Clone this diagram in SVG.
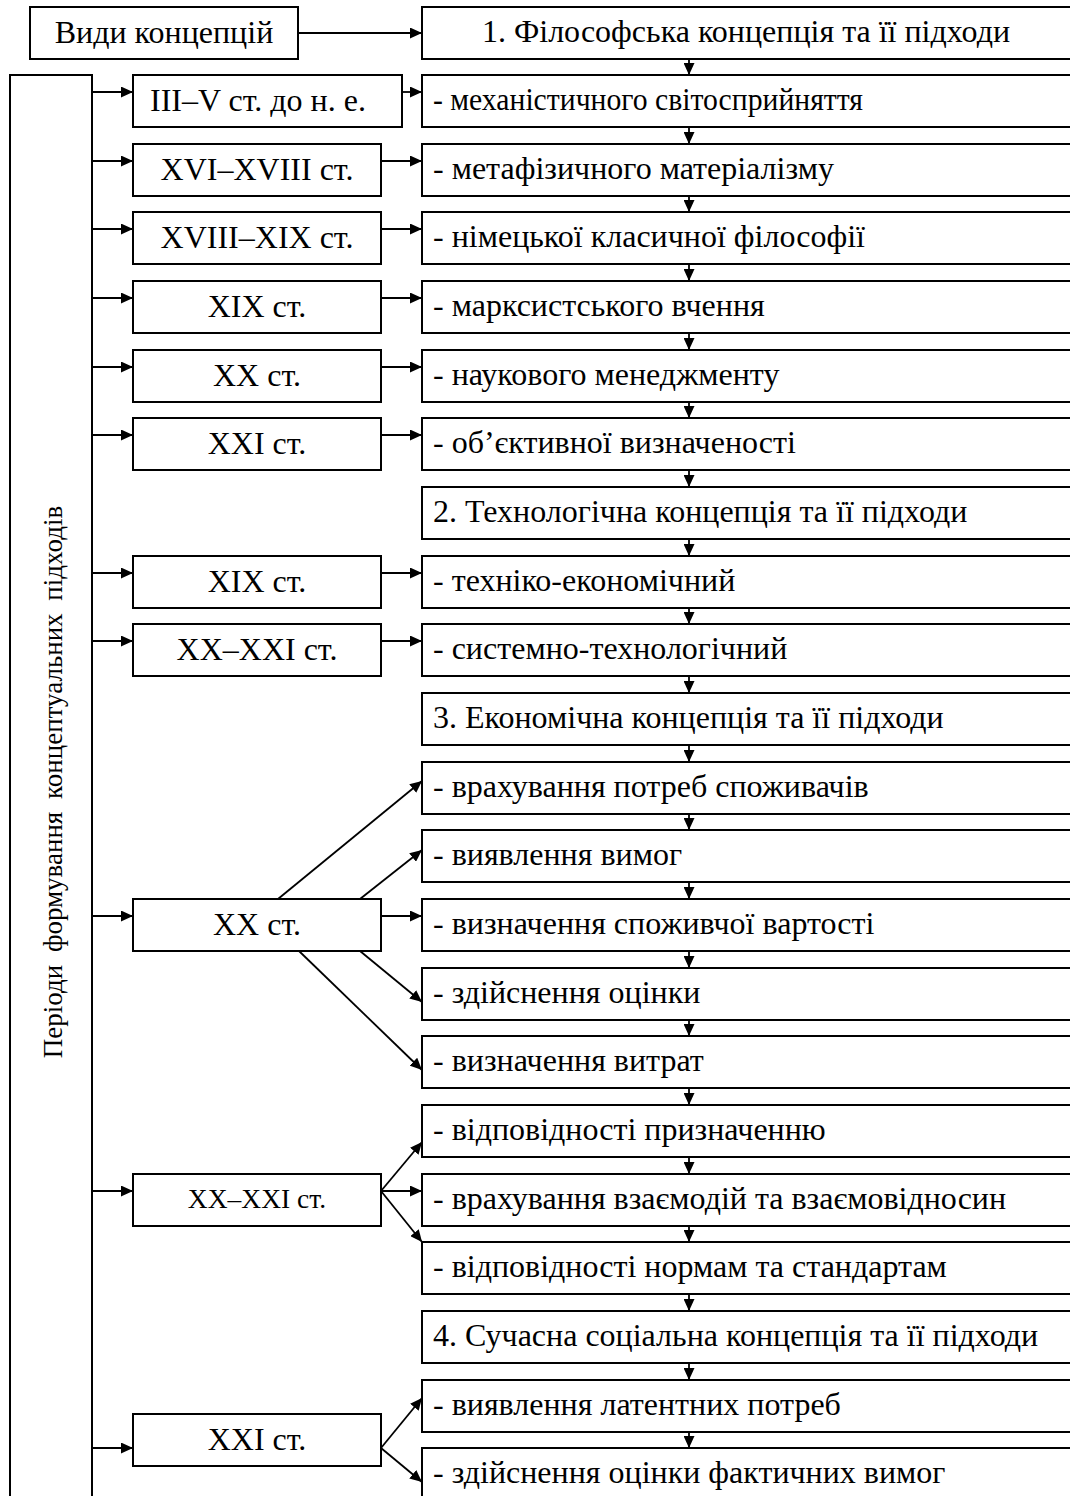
<svg xmlns="http://www.w3.org/2000/svg" width="1070" height="1496" viewBox="0 0 1070 1496">
<style>
.b{fill:#fff;stroke:#000;stroke-width:2}
.t{font-family:"Liberation Serif","Times New Roman",serif;font-size:32px;fill:#000}
.c{text-anchor:middle}
.s{font-size:27.5px}
.ln{stroke:#000;stroke-width:1.8;fill:none;marker-end:url(#ah)}
</style>
<defs>
<marker id="ah" markerUnits="userSpaceOnUse" markerWidth="13" markerHeight="11" refX="12" refY="5.5" orient="auto">
<path d="M0,0 L12,5.5 L0,11 z" fill="#000"/>
</marker>
</defs>
<rect width="1070" height="1496" fill="#fff"/>

<g id="node-vidy"><rect class="b" x="30" y="7" width="268" height="52"/><text class="t c" x="164" y="43">Види концепцій</text></g>
<g id="node-periods"><rect class="b" x="10" y="75" width="82" height="1440"/><text class="t" x="62" y="782" text-anchor="middle" style="font-size:27px;word-spacing:6px" transform="rotate(-90 62 782)">Періоди формування концептуальних підходів</text></g>

<g id="node-r1"><rect class="b" x="422" y="7" width="660" height="52"/><text class="t c" x="746" y="42">1. Філософська концепція та її підходи</text></g>
<g id="node-r2"><rect class="b" x="422" y="75" width="660" height="52"/><text class="t" x="433" y="110" textLength="430" lengthAdjust="spacingAndGlyphs">- механістичного світосприйняття</text></g>
<g id="node-r3"><rect class="b" x="422" y="144" width="660" height="52"/><text class="t" x="433" y="179">- метафізичного матеріалізму</text></g>
<g id="node-r4"><rect class="b" x="422" y="212" width="660" height="52"/><text class="t" x="433" y="247">- німецької класичної філософії</text></g>
<g id="node-r5"><rect class="b" x="422" y="281" width="660" height="52"/><text class="t" x="433" y="316">- марксистського вчення</text></g>
<g id="node-r6"><rect class="b" x="422" y="350" width="660" height="52"/><text class="t" x="433" y="385">- наукового менеджменту</text></g>
<g id="node-r7"><rect class="b" x="422" y="418" width="660" height="52"/><text class="t" x="433" y="453">- об’єктивної визначеності</text></g>
<g id="node-r8"><rect class="b" x="422" y="487" width="660" height="52"/><text class="t" x="433" y="522">2. Технологічна концепція та її підходи</text></g>
<g id="node-r9"><rect class="b" x="422" y="556" width="660" height="52"/><text class="t" x="433" y="591">- техніко-економічний</text></g>
<g id="node-r10"><rect class="b" x="422" y="624" width="660" height="52"/><text class="t" x="433" y="659">- системно-технологічний</text></g>
<g id="node-r11"><rect class="b" x="422" y="693" width="660" height="52"/><text class="t" x="433" y="728">3. Економічна концепція та її підходи</text></g>
<g id="node-r12"><rect class="b" x="422" y="762" width="660" height="52"/><text class="t" x="433" y="797">- врахування потреб споживачів</text></g>
<g id="node-r13"><rect class="b" x="422" y="830" width="660" height="52"/><text class="t" x="433" y="865">- виявлення вимог</text></g>
<g id="node-r14"><rect class="b" x="422" y="899" width="660" height="52"/><text class="t" x="433" y="934">- визначення споживчої вартості</text></g>
<g id="node-r15"><rect class="b" x="422" y="968" width="660" height="52"/><text class="t" x="433" y="1003">- здійснення оцінки</text></g>
<g id="node-r16"><rect class="b" x="422" y="1036" width="660" height="52"/><text class="t" x="433" y="1071">- визначення витрат</text></g>
<g id="node-r17"><rect class="b" x="422" y="1105" width="660" height="52"/><text class="t" x="433" y="1140">- відповідності призначенню</text></g>
<g id="node-r18"><rect class="b" x="422" y="1174" width="660" height="52"/><text class="t" x="433" y="1209">- врахування взаємодій та взаємовідносин</text></g>
<g id="node-r19"><rect class="b" x="422" y="1242" width="660" height="52"/><text class="t" x="433" y="1277">- відповідності нормам та стандартам</text></g>
<g id="node-r20"><rect class="b" x="422" y="1311" width="660" height="52"/><text class="t" x="433" y="1346">4. Сучасна соціальна концепція та її підходи</text></g>
<g id="node-r21"><rect class="b" x="422" y="1380" width="660" height="52"/><text class="t" x="433" y="1415">- виявлення латентних потреб</text></g>
<g id="node-r22"><rect class="b" x="422" y="1448" width="660" height="52"/><text class="t" x="433" y="1483">- здійснення оцінки фактичних вимог</text></g>

<g id="node-p1"><rect class="b" x="133" y="75" width="269" height="52"/><text class="t c" x="258" y="111">III–V ст. до н. е.</text></g>
<g id="node-p2"><rect class="b" x="133" y="144" width="248" height="52"/><text class="t c" x="257" y="180">XVI–XVIII ст.</text></g>
<g id="node-p3"><rect class="b" x="133" y="212" width="248" height="52"/><text class="t c" x="257" y="248">XVIII–XIX ст.</text></g>
<g id="node-p4"><rect class="b" x="133" y="281" width="248" height="52"/><text class="t c" x="257" y="317">XIX ст.</text></g>
<g id="node-p5"><rect class="b" x="133" y="350" width="248" height="52"/><text class="t c" x="257" y="386">XX ст.</text></g>
<g id="node-p6"><rect class="b" x="133" y="418" width="248" height="52"/><text class="t c" x="257" y="454">XXI ст.</text></g>
<g id="node-p7"><rect class="b" x="133" y="556" width="248" height="52"/><text class="t c" x="257" y="592">XIX ст.</text></g>
<g id="node-p8"><rect class="b" x="133" y="624" width="248" height="52"/><text class="t c" x="257" y="660">XX–XXI ст.</text></g>
<g id="node-p9"><rect class="b" x="133" y="899" width="248" height="52"/><text class="t c" x="257" y="935">XX ст.</text></g>
<g id="node-p10"><rect class="b" x="133" y="1174" width="248" height="52"/><text class="t c s" x="257" y="1208">XX–XXI ст.</text></g>
<g id="node-p11"><rect class="b" x="133" y="1414" width="248" height="52"/><text class="t c" x="257" y="1450">XXI ст.</text></g>

<g id="connectors">
<line class="ln" x1="298" y1="33" x2="422" y2="33"/>
<line class="ln" x1="689" y1="59" x2="689" y2="75"/>
<line class="ln" x1="689" y1="127" x2="689" y2="144"/>
<line class="ln" x1="689" y1="196" x2="689" y2="212"/>
<line class="ln" x1="689" y1="264" x2="689" y2="281"/>
<line class="ln" x1="689" y1="333" x2="689" y2="350"/>
<line class="ln" x1="689" y1="402" x2="689" y2="418"/>
<line class="ln" x1="689" y1="470" x2="689" y2="487"/>
<line class="ln" x1="689" y1="539" x2="689" y2="556"/>
<line class="ln" x1="689" y1="608" x2="689" y2="624"/>
<line class="ln" x1="689" y1="676" x2="689" y2="693"/>
<line class="ln" x1="689" y1="745" x2="689" y2="762"/>
<line class="ln" x1="689" y1="814" x2="689" y2="830"/>
<line class="ln" x1="689" y1="882" x2="689" y2="899"/>
<line class="ln" x1="689" y1="951" x2="689" y2="968"/>
<line class="ln" x1="689" y1="1020" x2="689" y2="1036"/>
<line class="ln" x1="689" y1="1088" x2="689" y2="1105"/>
<line class="ln" x1="689" y1="1157" x2="689" y2="1174"/>
<line class="ln" x1="689" y1="1226" x2="689" y2="1242"/>
<line class="ln" x1="689" y1="1294" x2="689" y2="1311"/>
<line class="ln" x1="689" y1="1363" x2="689" y2="1380"/>
<line class="ln" x1="689" y1="1432" x2="689" y2="1448"/>

<line class="ln" x1="92" y1="92" x2="133" y2="92"/>
<line class="ln" x1="92" y1="161" x2="133" y2="161"/>
<line class="ln" x1="92" y1="229" x2="133" y2="229"/>
<line class="ln" x1="92" y1="298" x2="133" y2="298"/>
<line class="ln" x1="92" y1="367" x2="133" y2="367"/>
<line class="ln" x1="92" y1="435" x2="133" y2="435"/>
<line class="ln" x1="92" y1="573" x2="133" y2="573"/>
<line class="ln" x1="92" y1="641" x2="133" y2="641"/>
<line class="ln" x1="92" y1="916" x2="133" y2="916"/>
<line class="ln" x1="92" y1="1191" x2="133" y2="1191"/>
<line class="ln" x1="92" y1="1448" x2="133" y2="1448"/>

<line class="ln" x1="402" y1="92" x2="422" y2="92"/>
<line class="ln" x1="381" y1="161" x2="422" y2="161"/>
<line class="ln" x1="381" y1="229" x2="422" y2="229"/>
<line class="ln" x1="381" y1="298" x2="422" y2="298"/>
<line class="ln" x1="381" y1="367" x2="422" y2="367"/>
<line class="ln" x1="381" y1="435" x2="422" y2="435"/>
<line class="ln" x1="381" y1="573" x2="422" y2="573"/>
<line class="ln" x1="381" y1="641" x2="422" y2="641"/>

<line class="ln" x1="278" y1="899" x2="422" y2="781"/>
<line class="ln" x1="360" y1="899" x2="422" y2="850"/>
<line class="ln" x1="381" y1="916" x2="422" y2="916"/>
<line class="ln" x1="360" y1="951" x2="422" y2="1002"/>
<line class="ln" x1="299" y1="951" x2="422" y2="1070"/>

<line class="ln" x1="381" y1="1191" x2="422" y2="1142"/>
<line class="ln" x1="381" y1="1191" x2="422" y2="1191"/>
<line class="ln" x1="381" y1="1191" x2="422" y2="1242"/>

<line class="ln" x1="381" y1="1448" x2="422" y2="1398"/>
<line class="ln" x1="381" y1="1448" x2="422" y2="1482"/>
</g>
</svg>
